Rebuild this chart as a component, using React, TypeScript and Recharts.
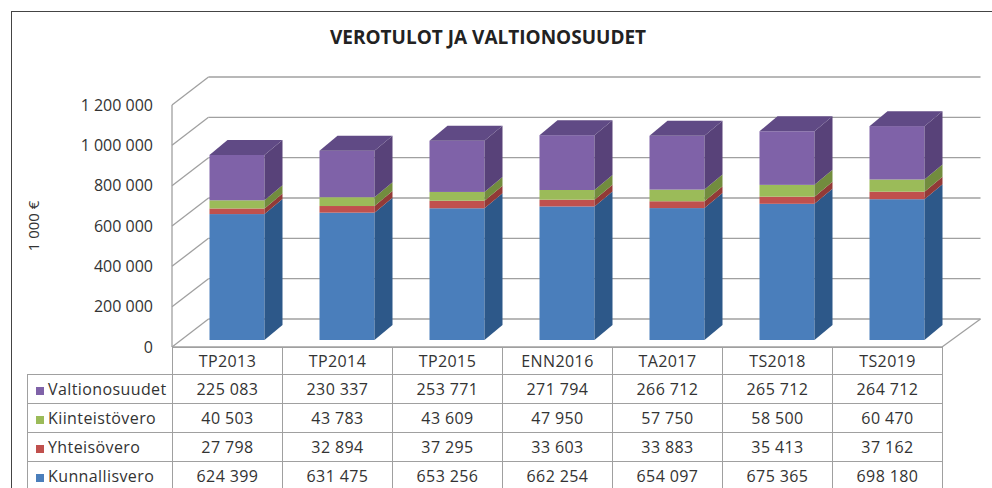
import React from 'react';
import { BarChart, Bar, XAxis, YAxis, CartesianGrid } from 'recharts';

const categories = ['TP2013', 'TP2014', 'TP2015', 'ENN2016', 'TA2017', 'TS2018', 'TS2019'];
const valtionosuudet = [225083, 230337, 253771, 271794, 266712, 265712, 264712];
const kiinteistovero = [40503, 43783, 43609, 47950, 57750, 58500, 60470];
const yhteisovero = [27798, 32894, 37295, 33603, 33883, 35413, 37162];
const kunnallisvero = [624399, 631475, 653256, 662254, 654097, 675365, 698180];
const yTicks = [0, 200000, 400000, 600000, 800000, 1000000, 1200000];

// stack order bottom -> top
const series = [
  { key: 'kunnallisvero', name: 'Kunnallisvero', values: kunnallisvero, front: '#4A7EBB', side: '#2D5889', top: '#3B6BA5' },
  { key: 'yhteisovero', name: 'Yhteisövero', values: yhteisovero, front: '#C0504D', side: '#923A37', top: '#A64441' },
  { key: 'kiinteistovero', name: 'Kiinteistövero', values: kiinteistovero, front: '#9BBB59', side: '#728C3E', top: '#86A44A' },
  { key: 'valtionosuudet', name: 'Valtionosuudet', values: valtionosuudet, front: '#7F62A8', side: '#584279', top: '#604A85' },
];

const data = categories.map((name, i) => {
  const row: Record<string, string | number> = { name };
  series.forEach((s) => { row[s.key] = s.values[i]; });
  return row;
});

const W = 992;
const H = 488;
const PLOT_TOP = 98;
const PLOT_BOTTOM = 340;
const PLOT_LEFT = 181.5;
const PLOT_RIGHT = 951.5;
const DEPTH_X = 18;
const DEPTH_Y = 15;
const FONT = '"Open Sans", sans-serif';
const GRID = '#A0A0A0';

const fmt = (v: number) => String(v).replace(/\B(?=(\d{3})+(?!\d))/g, ' ');

const makeShape = (s: typeof series[number], isTop: boolean) => (props: any) => {
  const { x, y, width, height } = props;
  if (!height || height <= 0) return <g />;
  return (
    <g>
      <rect x={x} y={y} width={width} height={height} fill={s.front} />
      <polygon
        points={`${x + width},${y + height} ${x + width + DEPTH_X},${y + height - DEPTH_Y} ${x + width + DEPTH_X},${y - DEPTH_Y} ${x + width},${y}`}
        fill={s.side}
      />
      {isTop && (
        <polygon
          points={`${x},${y} ${x + width},${y} ${x + width + DEPTH_X},${y - DEPTH_Y} ${x + DEPTH_X},${y - DEPTH_Y}`}
          fill={s.top}
        />
      )}
    </g>
  );
};

// back wall + left wall lines, drawn from the grid's tick positions
const WallLine = (props: any) => {
  const { x1, x2, y1 } = props;
  const fx = x1 - 9.5;
  const fy = y1 + 7;
  const bxL = x1 + 27;
  const bxR = x2 + 29;
  const by = y1 - 21;
  const isBottom = Math.abs(y1 - PLOT_BOTTOM) < 1;
  const isTop = Math.abs(y1 - PLOT_TOP) < 1;
  return (
    <g stroke={GRID} strokeWidth={1.3} fill="none">
      <line x1={bxL} y1={by} x2={bxR} y2={by} />
      <line x1={fx} y1={fy} x2={bxL} y2={by} />
      {isBottom && (
        <>
          <line x1={fx} y1={fy} x2={x2 - 9.5} y2={fy} />
          <line x1={x2 - 9.5} y1={fy} x2={bxR} y2={by} />
        </>
      )}
      {isTop && <line x1={fx} y1={fy} x2={fx} y2={PLOT_BOTTOM + 7} />}
    </g>
  );
};

const YTick = (props: any) => {
  const { y, payload } = props;
  return (
    <text x={153} y={y + 7} dy="0.35em" textAnchor="end" fontSize={16} fill="#333" fontFamily={FONT}>
      {fmt(payload.value)}
    </text>
  );
};

const cellBorder = `1px solid ${GRID}`;
const tableRows = [...series].reverse();

const App: React.FC = () => {
  return (
    <div style={{ position: 'absolute', left: 0, top: 0, width: W, height: H, overflow: 'hidden', background: '#fff' }}>
      <div
        style={{
          position: 'absolute', left: 11, top: 11, width: W + 20, height: H + 20,
          borderTop: '1.5px solid #444', borderLeft: '1.5px solid #444',
        }}
      />
      <div
        style={{
          position: 'absolute', left: 0, top: 24, width: W - 16, textAlign: 'center',
          fontFamily: FONT, fontWeight: 700, fontSize: 19, color: '#222',
        }}
      >
        VEROTULOT JA VALTIONOSUUDET
      </div>
      <div
        style={{
          position: 'absolute', left: 33, top: 226, transform: 'translate(-50%, -50%) rotate(-90deg)',
          fontFamily: FONT, fontSize: 15, color: '#333', whiteSpace: 'nowrap',
        }}
      >
        1 000 €
      </div>
      <div style={{ position: 'absolute', left: 0, top: 0 }}>
        <BarChart
          width={W}
          height={H}
          data={data}
          margin={{ top: PLOT_TOP, bottom: H - PLOT_BOTTOM, left: PLOT_LEFT - 60, right: W - PLOT_RIGHT }}
        >
          <CartesianGrid vertical={false} horizontal={(p: any) => <WallLine key={p.key} {...p} />} />
          <XAxis dataKey="name" hide />
          <YAxis
            width={60}
            domain={[0, 1200000]}
            ticks={yTicks}
            axisLine={false}
            tickLine={false}
            tick={<YTick />}
          />
          {series.map((s, i) => (
            <Bar
              key={s.key}
              dataKey={s.key}
              name={s.name}
              stackId="a"
              barSize={55}
              fill={s.front}
              isAnimationActive={false}
              shape={makeShape(s, i === series.length - 1)}
            />
          ))}
        </BarChart>
      </div>
      <table
        style={{
          position: 'absolute', left: 27, top: 347, borderCollapse: 'collapse', tableLayout: 'fixed',
          fontFamily: FONT, fontSize: 16, letterSpacing: 0.4, color: '#333',
        }}
      >
        <colgroup>
          <col style={{ width: 145 }} />
          {categories.map((c) => <col key={c} style={{ width: 110 }} />)}
        </colgroup>
        <tbody>
          <tr>
            <td style={{ height: 26, padding: 0, borderRight: cellBorder, borderBottom: cellBorder }} />
            {categories.map((c) => (
              <td key={c} style={{ height: 26, padding: 0, border: cellBorder, textAlign: 'center' }}>{c}</td>
            ))}
          </tr>
          {tableRows.map((s) => (
            <tr key={s.key}>
              <td style={{ height: 28, padding: '0 0 0 8px', border: cellBorder, whiteSpace: 'nowrap' }}>
                <span style={{ display: 'inline-block', width: 8, height: 8, background: s.front, marginRight: 4, verticalAlign: 'middle' }} />
                {s.name}
              </td>
              {s.values.map((v, i) => (
                <td key={i} style={{ height: 28, padding: 0, border: cellBorder, textAlign: 'center' }}>{fmt(v)}</td>
              ))}
            </tr>
          ))}
        </tbody>
      </table>
    </div>
  );
};

export default App;
